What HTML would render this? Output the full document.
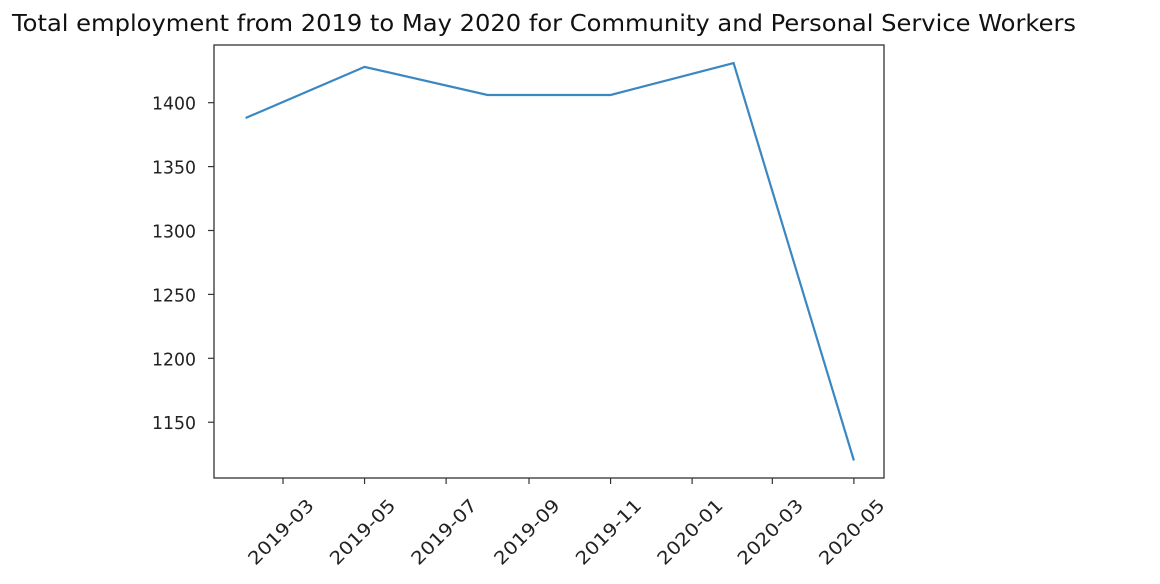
<!DOCTYPE html>
<html><head><meta charset="utf-8"><style>
body{margin:0;background:#fff;}
svg{display:block;font-family:"DejaVu Sans","Liberation Sans",sans-serif;}
</style></head><body>
<svg id="chart" width="1160" height="584">
<text x="12" y="31" font-size="23" fill="#111" textLength="1064" lengthAdjust="spacingAndGlyphs">Total employment from 2019 to May 2020 for Community and Personal Service Workers</text>
<rect x="214" y="45" width="670" height="433" fill="none" stroke="#333" stroke-width="1.3"/>
<g id="yaxis"></g>
<g id="xaxis"></g>
<g id="series"></g>
</svg>
<script>
const dates = ["2019-02-01","2019-05-01","2019-08-01","2019-11-01","2020-02-01","2020-05-01"];
const values = [1388, 1428, 1406, 1406, 1431, 1120];
const yTicks = [1150, 1200, 1250, 1300, 1350, 1400];
const xTicks = ["2019-03","2019-05","2019-07","2019-09","2019-11","2020-01","2020-03","2020-05"];

const NS="http://www.w3.org/2000/svg";
const t0=Date.UTC(2019,2,1);
function xs(d){const ms=Date.parse(d+"T00:00:00Z");return 283+(ms-t0)/86400000*1.337;}
function ys(v){return 102.7+(1400-v)*1.278;}
function mk(tag,attrs,parent){const e=document.createElementNS(NS,tag);for(const k in attrs)e.setAttribute(k,attrs[k]);parent.appendChild(e);return e;}
const ya=document.getElementById('yaxis'),xa=document.getElementById('xaxis'),sr=document.getElementById('series');
yTicks.forEach(v=>{const y=ys(v);
 const l=mk('line',{x1:208,x2:214,y1:y,y2:y,stroke:'#333','stroke-width':1.2},ya);
 
 
 const t=mk('text',{x:196,y:y+7,'text-anchor':'end','font-size':18,fill:'#222',textLength:44,lengthAdjust:'spacingAndGlyphs'},ya);
 t.textContent=v;
 
 
});
xTicks.forEach(s=>{const x=xs(s+"-01");
 const l=mk('line',{x1:x,x2:x,y1:478,y2:484,stroke:'#333','stroke-width':1.2},xa);
 
 
 const cx=x-2,cy=538;
 const t=mk('text',{x:cx,y:cy,'text-anchor':'middle','font-size':18,fill:'#222',textLength:84,lengthAdjust:'spacingAndGlyphs',transform:`rotate(-45 ${cx} ${cy-6})`},xa);
 t.textContent=s;
 
 
});
const pts=dates.map((d,i)=>xs(d).toFixed(1)+","+ys(values[i]).toFixed(1)).join(" ");
const pl=mk('polyline',{points:pts,fill:'none',stroke:'#3a87c1','stroke-width':2.2,'stroke-linejoin':'miter'},sr);


</script>
</body></html>
